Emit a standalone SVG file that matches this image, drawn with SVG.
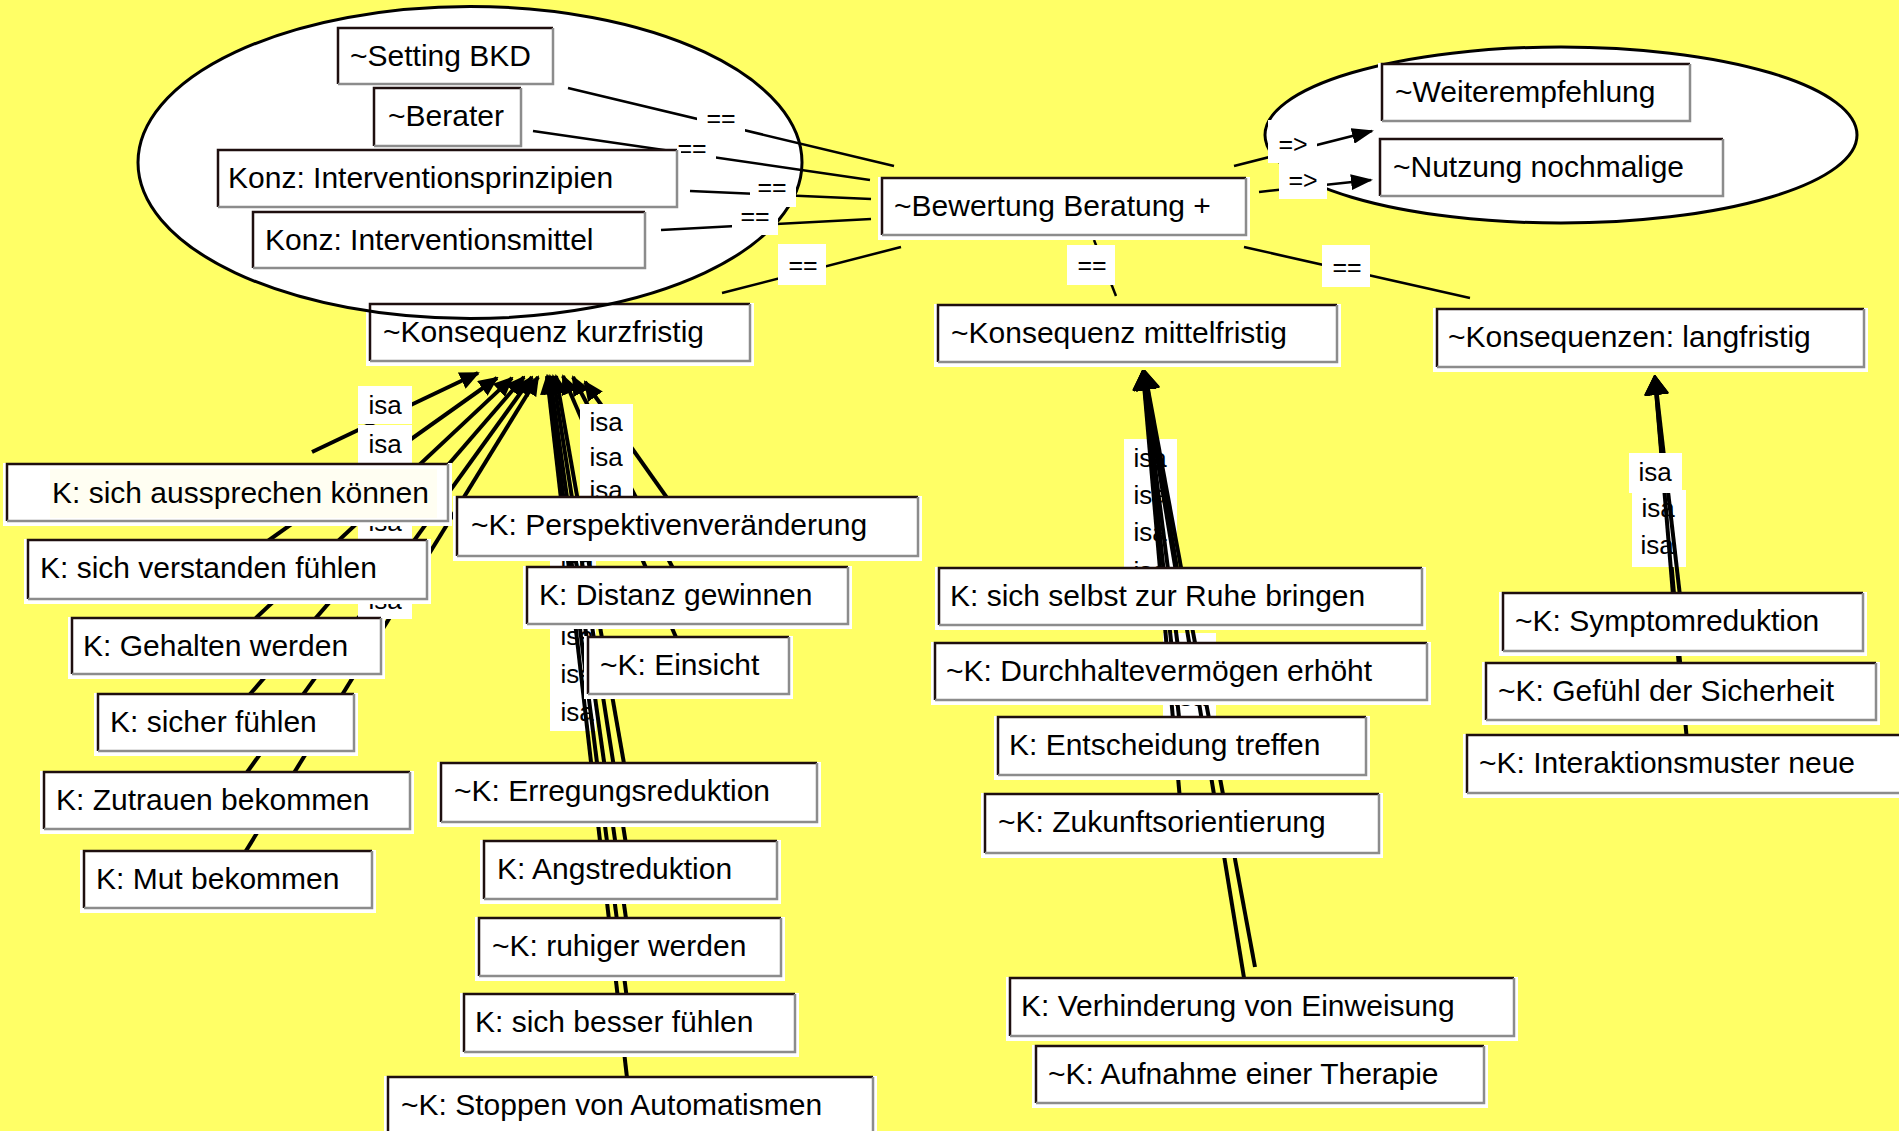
<svg xmlns="http://www.w3.org/2000/svg" width="1899" height="1131" viewBox="0 0 1899 1131">
<style>
.bg{fill:#ffff66}
.ef{fill:#fff}
.eo{fill:none;stroke:#000;stroke-width:3}
.hl{fill:#fff}
.tl{fill:none;stroke:#1e0f0f;stroke-width:2.5}
.br{fill:none;stroke:#8c8c8c;stroke-width:2.5}
.t{font-family:"Liberation Sans",Arial,sans-serif;font-size:30px;fill:#000}
.eq{stroke:#000;stroke-width:2.5;fill:none}
.imp{stroke:#000;stroke-width:2.5;fill:none;marker-end:url(#ah2)}
.isa{stroke:#000;stroke-width:4;fill:none;marker-end:url(#ah)}
.isb{stroke:#000;stroke-width:4;fill:none;marker-end:url(#ah3)}
.lb{fill:#fff}
.lt{font-family:"Liberation Sans",Arial,sans-serif;font-size:26px;fill:#000;text-anchor:middle}
.et{font-family:"Liberation Sans",Arial,sans-serif;font-size:25px;fill:#000;text-anchor:middle}
</style>
<defs>
<marker id="ah" markerUnits="userSpaceOnUse" viewBox="0 0 20 18" refX="18" refY="9" markerWidth="20" markerHeight="18" orient="auto"><path d="M0,0 L20,9 L0,18 z" fill="#000"/></marker>
<marker id="ah2" markerUnits="userSpaceOnUse" viewBox="0 0 22 16" refX="20" refY="8" markerWidth="22" markerHeight="16" orient="auto"><path d="M0,0 L22,8 L0,16 z" fill="#000"/></marker>
<marker id="ah3" markerUnits="userSpaceOnUse" viewBox="0 0 20 24" refX="17" refY="12" markerWidth="20" markerHeight="24" orient="auto"><path d="M1,1 L19,12 L1,23 z" fill="#000" stroke="#000" stroke-width="2" stroke-linejoin="round"/></marker>
</defs>
<rect class="bg" x="0" y="0" width="1899" height="1131"/>
<g id="groups">
<ellipse class="ef" cx="470" cy="162.5" rx="332" ry="156"/>
<ellipse class="ef eo" cx="1561" cy="135" rx="296" ry="88" style="fill:#fff"/>
</g>
<g id="connectors">
<line class="eq" x1="568" y1="88" x2="894" y2="166"/>
<line class="eq" x1="533" y1="131" x2="870" y2="180"/>
<line class="eq" x1="690" y1="191" x2="871" y2="199"/>
<line class="eq" x1="661" y1="230" x2="871" y2="219"/>
<line class="eq" x1="901" y1="247" x2="722" y2="293"/>
<line class="eq" x1="1094" y1="240" x2="1116" y2="296"/>
<line class="eq" x1="1244" y1="247" x2="1470" y2="298"/>
<line class="imp" x1="1234" y1="166" x2="1372" y2="131"/>
<line class="imp" x1="1259" y1="192" x2="1371" y2="180"/>
<line class="isa" x1="312" y1="452" x2="478" y2="373"/>
<line class="isa" x1="227" y1="570" x2="497" y2="378"/>
<line class="isa" x1="226" y1="646" x2="512" y2="378"/>
<line class="isa" x1="226" y1="722" x2="524" y2="377"/>
<line class="isa" x1="227" y1="800" x2="532" y2="377"/>
<line class="isa" x1="228" y1="880" x2="538" y2="377"/>
<rect class="lb" x="358" y="386" width="54" height="38"/><text class="lt" x="385" y="414">isa</text>
<rect class="lb" x="358" y="425" width="54" height="38"/><text class="lt" x="385" y="453">isa</text>
<rect class="lb" x="358" y="464" width="54" height="38"/><text class="lt" x="385" y="492">isa</text>
<rect class="lb" x="358" y="503" width="54" height="38"/><text class="lt" x="385" y="531">isa</text>
<rect class="lb" x="358" y="542" width="54" height="38"/><text class="lt" x="385" y="570">isa</text>
<rect class="lb" x="358" y="581" width="54" height="38"/><text class="lt" x="385" y="609">isa</text>
<line class="isa" x1="687" y1="526" x2="585" y2="382"/>
<line class="isa" x1="687" y1="595" x2="573" y2="377"/>
<line class="isa" x1="688" y1="665" x2="563" y2="376"/>
<rect class="lb" x="580" y="404" width="53" height="36"/><text class="lt" x="606" y="431">isa</text>
<rect class="lb" x="580" y="439" width="53" height="36"/><text class="lt" x="606" y="466">isa</text>
<rect class="lb" x="580" y="472" width="53" height="36"/><text class="lt" x="606" y="499">isa</text>
<rect class="lb" x="550" y="541" width="46" height="38"/><text class="lt" x="577" y="569">isa</text>
<rect class="lb" x="550" y="579" width="46" height="38"/><text class="lt" x="577" y="607">isa</text>
<rect class="lb" x="550" y="617" width="46" height="38"/><text class="lt" x="577" y="645">isa</text>
<rect class="lb" x="550" y="655" width="46" height="38"/><text class="lt" x="577" y="683">isa</text>
<rect class="lb" x="550" y="693" width="46" height="38"/><text class="lt" x="577" y="721">isa</text>
<line class="isa" x1="629" y1="792" x2="556" y2="376"/>
<line class="isa" x1="630" y1="870" x2="553" y2="376"/>
<line class="isa" x1="630" y1="947" x2="550" y2="376"/>
<line class="isa" x1="630" y1="1023" x2="548" y2="376"/>
<line class="isa" x1="630" y1="1104" x2="547" y2="376"/>
<rect class="lb" x="1124" y="439" width="53" height="38"/><text class="lt" x="1150" y="467">isa</text>
<rect class="lb" x="1124" y="476" width="53" height="38"/><text class="lt" x="1150" y="504">isa</text>
<rect class="lb" x="1124" y="513" width="53" height="38"/><text class="lt" x="1150" y="541">isa</text>
<rect class="lb" x="1124" y="551" width="53" height="38"/><text class="lt" x="1150" y="580">isa</text>
<rect class="lb" x="1163" y="633" width="53" height="38"/><text class="lt" x="1190" y="661">isa</text>
<rect class="lb" x="1163" y="678" width="53" height="38"/><text class="lt" x="1190" y="706">isa</text>
<line class="isb" x1="1180" y1="596" x2="1143" y2="373"/>
<line class="isb" x1="1181" y1="671" x2="1143" y2="373"/>
<line class="isb" x1="1182" y1="746" x2="1143" y2="373"/>
<line class="isb" x1="1182" y1="823" x2="1143" y2="373"/>
<line class="isb" x1="1246" y1="990" x2="1145" y2="373"/>
<line class="isb" x1="1255" y1="967" x2="1145" y2="373"/>
<line class="isb" x1="1689" y1="764" x2="1655" y2="378"/>
<rect class="lb" x="1632" y="527" width="54" height="40"/><text class="lt" x="1657" y="554">isa</text>
<rect class="lb" x="1632" y="490" width="54" height="37"/><text class="lt" x="1658" y="517">isa</text>
<line class="isb" x1="1683" y1="622" x2="1655" y2="378"/>
<line class="isb" x1="1681" y1="691" x2="1655" y2="378"/>
<rect class="lb" x="1629" y="453" width="53" height="40"/><text class="lt" x="1655" y="481">isa</text>
<rect class="lb" x="697" y="100" width="48" height="38"/><text class="et" x="721" y="127">==</text>
<rect class="lb" x="669" y="134" width="47" height="30"/><text class="et" x="692" y="157">==</text>
<rect class="lb" x="778" y="244" width="48" height="41"/><text class="et" x="803" y="274">==</text>
<rect class="lb" x="1067" y="245" width="48" height="40"/><text class="et" x="1092" y="274">==</text>
<rect class="lb" x="1322" y="245" width="48" height="42"/><text class="et" x="1347" y="276">==</text>
<rect class="lb" x="1268" y="120" width="49" height="43"/><text class="et" x="1293" y="153">=&gt;</text>
<rect class="lb" x="1279" y="163" width="48" height="36"/><text class="et" x="1303" y="189">=&gt;</text>
</g>
<g id="n-setting"><rect class="hl" x="334" y="27" width="223" height="62"/><path class="tl" d="M338,84V28H553"/><path class="br" d="M553,28V84H338"/><text class="t" x="350" y="66">~Setting BKD</text></g>
<g id="n-berater"><rect class="hl" x="370" y="87" width="155" height="64"/><path class="tl" d="M374,146V88H521"/><path class="br" d="M521,88V146H374"/><text class="t" x="388" y="126">~Berater</text></g>
<g id="n-prinzipien"><rect class="hl" x="214" y="149" width="467" height="63"/><path class="tl" d="M218,207V150H677"/><path class="br" d="M677,150V207H218"/><text class="t" x="228" y="188">Konz: Interventionsprinzipien</text></g>
<g id="n-mittel"><rect class="hl" x="249" y="211" width="400" height="62"/><path class="tl" d="M253,268V212H645"/><path class="br" d="M645,212V268H253"/><text class="t" x="265" y="250">Konz: Interventionsmittel</text></g>
<g id="n-bewertung"><rect class="hl" x="878" y="177" width="372" height="63"/><path class="tl" d="M882,235V178H1246"/><path class="br" d="M1246,178V235H882"/><text class="t" x="894" y="216">~Bewertung Beratung +</text></g>
<g id="n-weiter"><rect class="hl" x="1378" y="63" width="316" height="63"/><path class="tl" d="M1382,121V64H1690"/><path class="br" d="M1690,64V121H1382"/><text class="t" x="1395" y="102">~Weiterempfehlung</text></g>
<g id="n-nutzung"><rect class="hl" x="1376" y="138" width="351" height="63"/><path class="tl" d="M1380,196V139H1723"/><path class="br" d="M1723,139V196H1380"/><text class="t" x="1393" y="177">~Nutzung nochmalige</text></g>
<g id="n-kmittel"><rect class="hl" x="934" y="304" width="407" height="63"/><path class="tl" d="M938,362V305H1337"/><path class="br" d="M1337,305V362H938"/><text class="t" x="951" y="343">~Konsequenz mittelfristig</text></g>
<g id="n-klang"><rect class="hl" x="1433" y="308" width="435" height="64"/><path class="tl" d="M1437,367V309H1864"/><path class="br" d="M1864,309V367H1437"/><text class="t" x="1448" y="347">~Konsequenzen: langfristig</text></g>
<g id="n-kkurz"><rect class="hl" x="366" y="303" width="388" height="63"/><path class="tl" d="M370,361V304H750"/><path class="br" d="M750,304V361H370"/><text class="t" x="383" y="342">~Konsequenz kurzfristig</text></g>
<g id="n-aussprechen"><rect class="hl" x="3" y="463" width="449" height="63"/><path class="tl" d="M7,521V464H448"/><path class="br" d="M448,464V521H7"/><rect x="50" y="469" width="387" height="49" fill="#fffef2"/><text class="t" x="52" y="503">K: sich aussprechen können</text></g>
<g id="n-verstanden"><rect class="hl" x="24" y="539" width="407" height="65"/><path class="tl" d="M28,599V540H427"/><path class="br" d="M427,540V599H28"/><text class="t" x="40" y="578">K: sich verstanden fühlen</text></g>
<g id="n-gehalten"><rect class="hl" x="68" y="617" width="317" height="62"/><path class="tl" d="M72,674V618H381"/><path class="br" d="M381,618V674H72"/><text class="t" x="83" y="656">K: Gehalten werden</text></g>
<g id="n-sicher"><rect class="hl" x="94" y="693" width="264" height="63"/><path class="tl" d="M98,751V694H354"/><path class="br" d="M354,694V751H98"/><text class="t" x="110" y="732">K: sicher fühlen</text></g>
<g id="n-zutrauen"><rect class="hl" x="40" y="771" width="374" height="63"/><path class="tl" d="M44,829V772H410"/><path class="br" d="M410,772V829H44"/><text class="t" x="56" y="810">K: Zutrauen bekommen</text></g>
<g id="n-mut"><rect class="hl" x="80" y="850" width="296" height="63"/><path class="tl" d="M84,908V851H372"/><path class="br" d="M372,851V908H84"/><text class="t" x="96" y="889">K: Mut bekommen</text></g>
<g id="n-perspektive"><rect class="hl" x="453" y="496" width="469" height="65"/><path class="tl" d="M457,556V497H918"/><path class="br" d="M918,497V556H457"/><text class="t" x="471" y="535">~K: Perspektivenveränderung</text></g>
<g id="n-distanz"><rect class="hl" x="523" y="566" width="329" height="63"/><path class="tl" d="M527,624V567H848"/><path class="br" d="M848,567V624H527"/><text class="t" x="539" y="605">K: Distanz gewinnen</text></g>
<g id="n-einsicht"><rect class="hl" x="584" y="636" width="209" height="63"/><path class="tl" d="M588,694V637H789"/><path class="br" d="M789,637V694H588"/><text class="t" x="600" y="675">~K: Einsicht</text></g>
<g id="n-erregung"><rect class="hl" x="437" y="762" width="384" height="65"/><path class="tl" d="M441,822V763H817"/><path class="br" d="M817,763V822H441"/><text class="t" x="454" y="801">~K: Erregungsreduktion</text></g>
<g id="n-angst"><rect class="hl" x="480" y="840" width="301" height="64"/><path class="tl" d="M484,899V841H777"/><path class="br" d="M777,841V899H484"/><text class="t" x="497" y="879">K: Angstreduktion</text></g>
<g id="n-ruhiger"><rect class="hl" x="475" y="917" width="310" height="64"/><path class="tl" d="M479,976V918H781"/><path class="br" d="M781,918V976H479"/><text class="t" x="492" y="956">~K: ruhiger werden</text></g>
<g id="n-besser"><rect class="hl" x="460" y="993" width="339" height="64"/><path class="tl" d="M464,1052V994H795"/><path class="br" d="M795,994V1052H464"/><text class="t" x="475" y="1032">K: sich besser fühlen</text></g>
<g id="n-stoppen"><rect class="hl" x="384" y="1076" width="493" height="66"/><path class="tl" d="M388,1137V1077H873"/><path class="br" d="M873,1077V1137H388"/><text class="t" x="401" y="1115">~K: Stoppen von Automatismen</text></g>
<g id="n-ruhe"><rect class="hl" x="935" y="567" width="491" height="63"/><path class="tl" d="M939,625V568H1422"/><path class="br" d="M1422,568V625H939"/><text class="t" x="950" y="606">K: sich selbst zur Ruhe bringen</text></g>
<g id="n-durchhalte"><rect class="hl" x="931" y="642" width="500" height="63"/><path class="tl" d="M935,700V643H1427"/><path class="br" d="M1427,643V700H935"/><text class="t" x="946" y="681">~K: Durchhaltevermögen erhöht</text></g>
<g id="n-entscheidung"><rect class="hl" x="994" y="716" width="376" height="64"/><path class="tl" d="M998,775V717H1366"/><path class="br" d="M1366,717V775H998"/><text class="t" x="1009" y="755">K: Entscheidung treffen</text></g>
<g id="n-zukunft"><rect class="hl" x="981" y="793" width="402" height="65"/><path class="tl" d="M985,853V794H1379"/><path class="br" d="M1379,794V853H985"/><text class="t" x="998" y="832">~K: Zukunftsorientierung</text></g>
<g id="n-verhinderung"><rect class="hl" x="1006" y="977" width="512" height="64"/><path class="tl" d="M1010,1036V978H1514"/><path class="br" d="M1514,978V1036H1010"/><text class="t" x="1021" y="1016">K: Verhinderung von Einweisung</text></g>
<g id="n-aufnahme"><rect class="hl" x="1032" y="1045" width="456" height="63"/><path class="tl" d="M1036,1103V1046H1484"/><path class="br" d="M1484,1046V1103H1036"/><text class="t" x="1048" y="1084">~K: Aufnahme einer Therapie</text></g>
<g id="n-symptom"><rect class="hl" x="1499" y="592" width="368" height="64"/><path class="tl" d="M1503,651V593H1863"/><path class="br" d="M1863,593V651H1503"/><text class="t" x="1515" y="631">~K: Symptomreduktion</text></g>
<g id="n-gefuehl"><rect class="hl" x="1482" y="662" width="398" height="63"/><path class="tl" d="M1486,720V663H1876"/><path class="br" d="M1876,663V720H1486"/><text class="t" x="1498" y="701">~K: Gefühl der Sicherheit</text></g>
<g id="n-interaktion"><rect class="hl" x="1463" y="734" width="453" height="64"/><path class="tl" d="M1467,793V735H1912"/><path class="br" d="M1912,735V793H1467"/><text class="t" x="1479" y="773">~K: Interaktionsmuster neue</text></g>
<ellipse id="group-outline" class="eo" cx="470" cy="162.5" rx="332" ry="156"/>
<g id="connector-labels">
<rect class="lb" x="750" y="178" width="46" height="29"/><text class="et" x="772" y="196">==</text>
<rect class="lb" x="732" y="207" width="46" height="28"/><text class="et" x="755" y="225">==</text>
</g>
</svg>
